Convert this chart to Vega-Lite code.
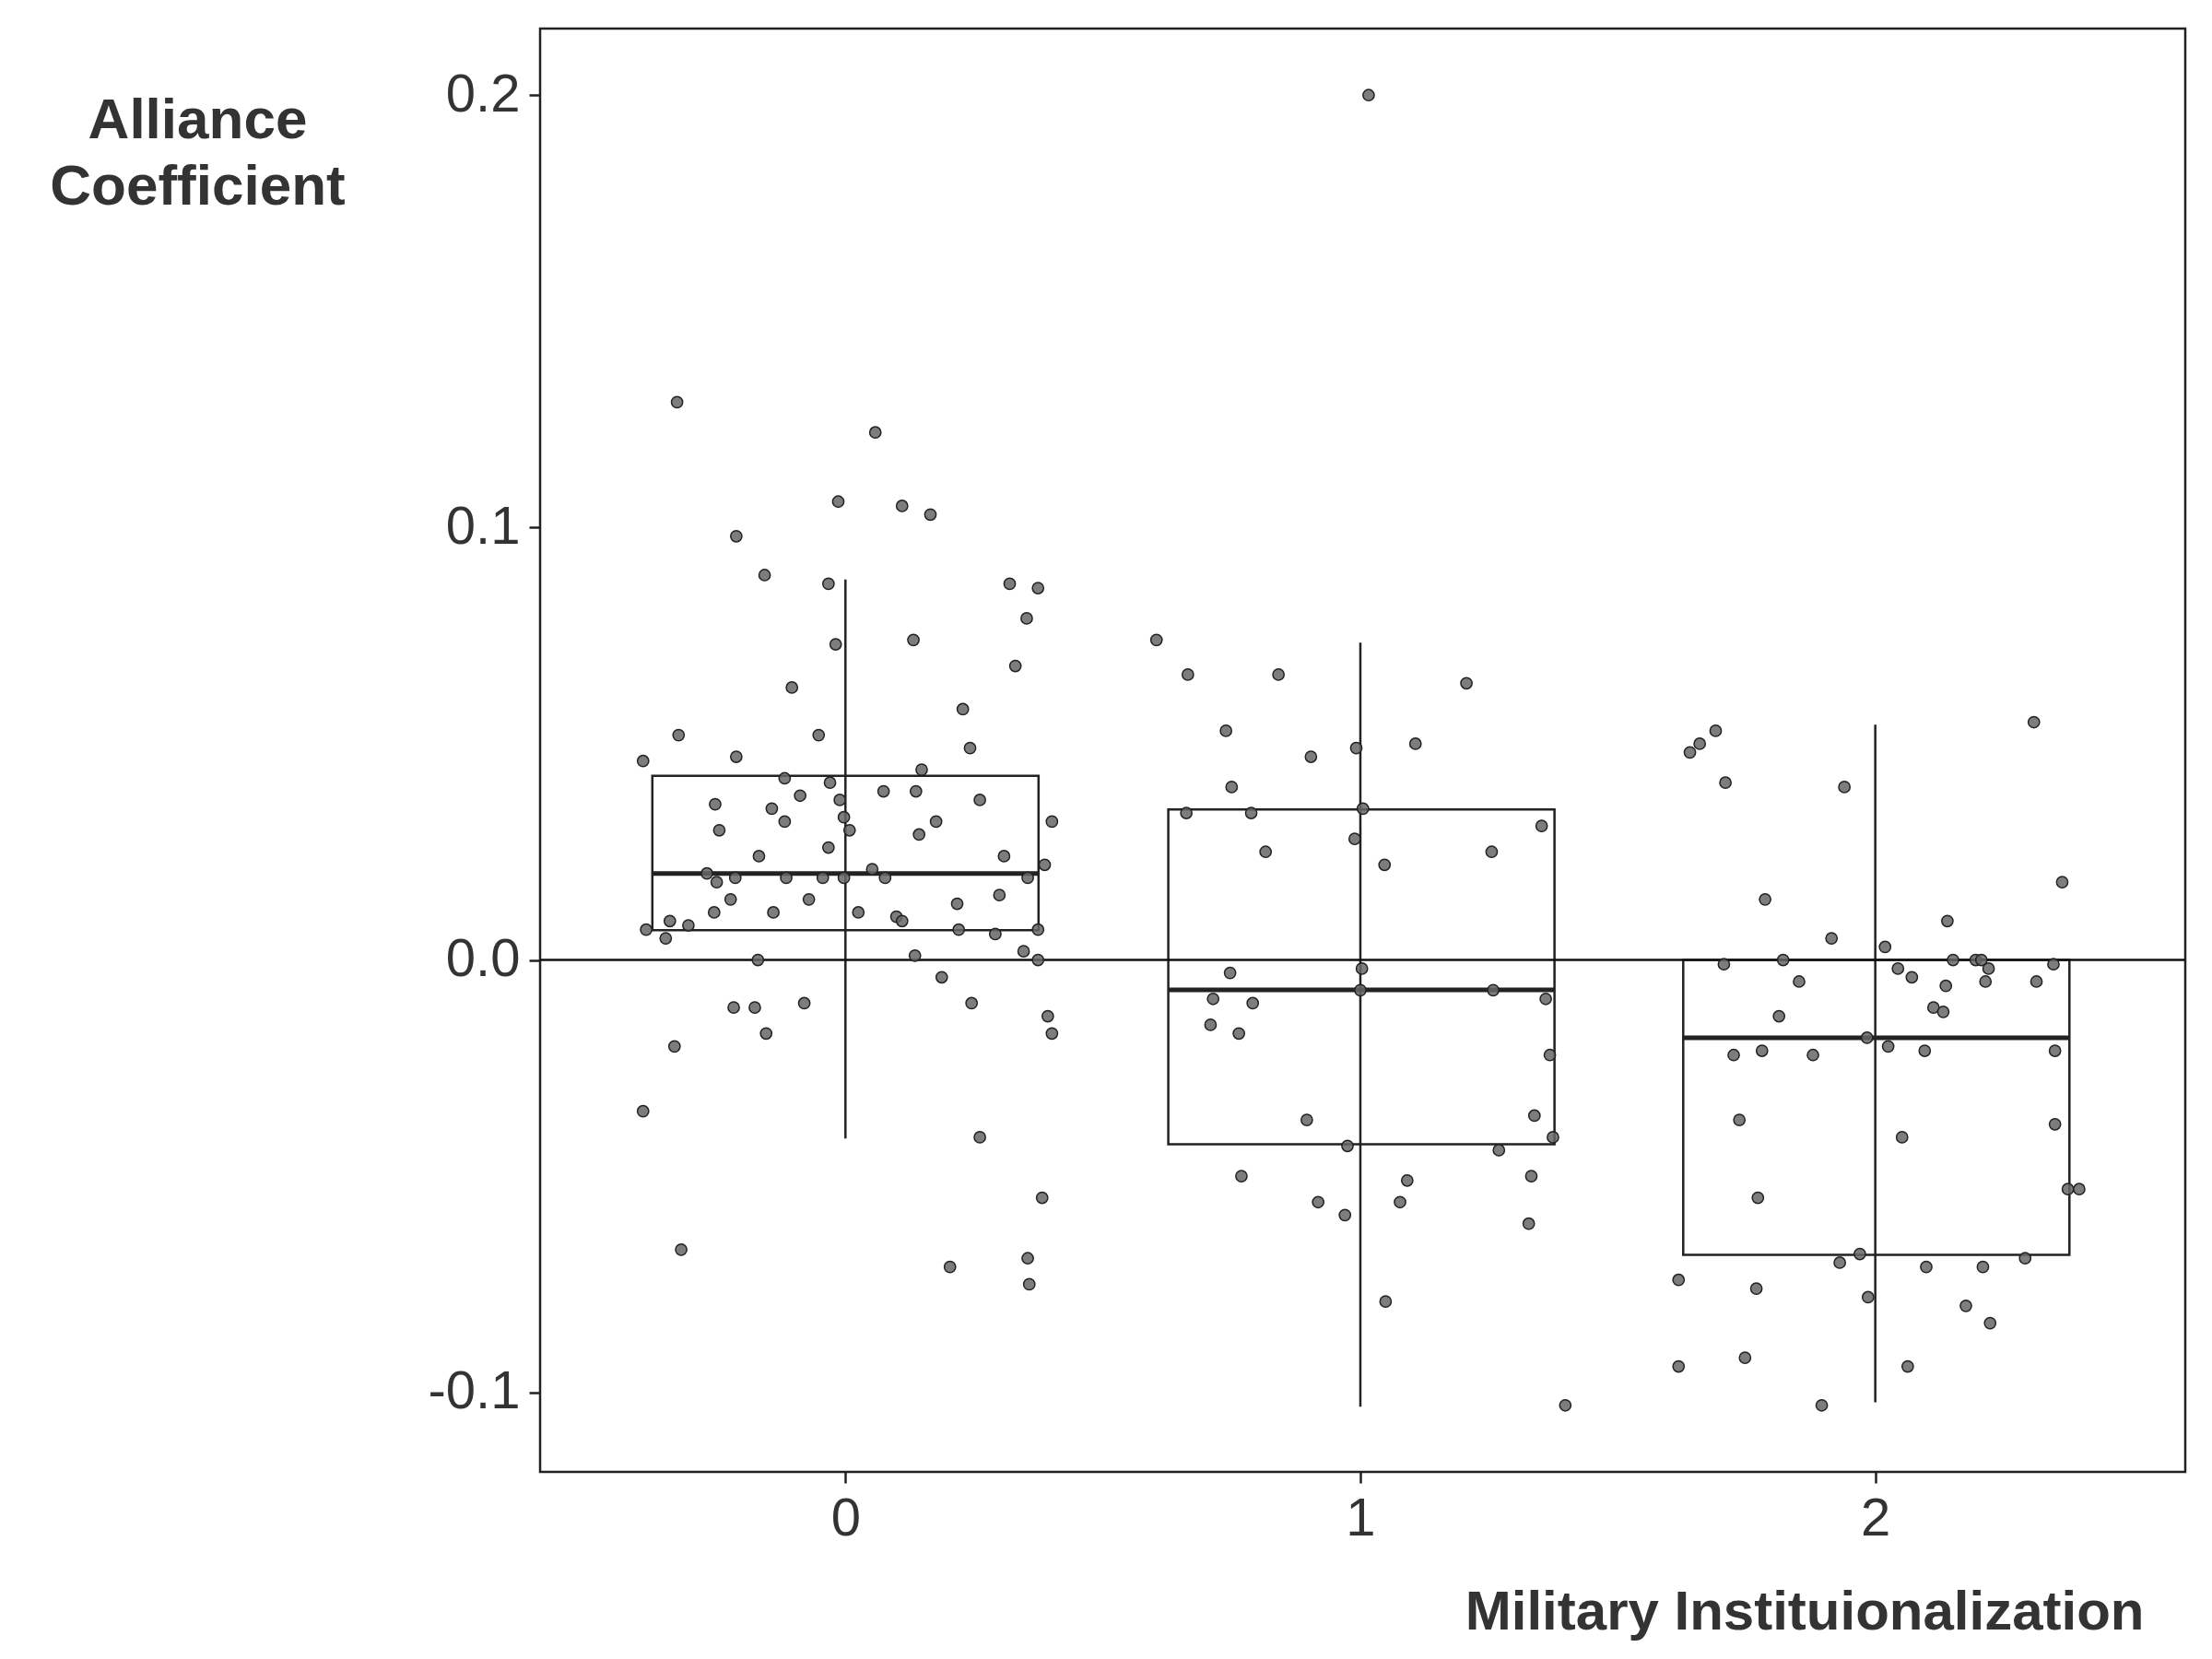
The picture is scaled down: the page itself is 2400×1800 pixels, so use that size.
{
"$schema":"https://vega.github.io/schema/vega-lite/v6.json",
"width":1785,"height":1566,
"autosize":{"type":"none"},
"padding":{"left":586,"top":31,"right":29,"bottom":203},
"background":"white",
"config":{"font":"Liberation Sans","view":{"stroke":"#222","strokeWidth":2.5}},
"datasets":{
"boxes":[
{"g":0,"lo":-0.375,"hi":0.375,"q1":0.0069,"q3":0.0426,"med":0.020,"wl":-0.0413,"wu":0.088},
{"g":1,"lo":0.627,"hi":1.377,"q1":-0.0426,"q3":0.0348,"med":-0.0069,"wl":-0.1033,"wu":0.0734},
{"g":2,"lo":1.627,"hi":2.377,"q1":-0.0682,"q3":0.0,"med":-0.018,"wl":-0.1023,"wu":0.0544}
],
"pts":[
{"x":-0.393,"y":0.046},{"x":-0.387,"y":0.007},{"x":-0.393,"y":-0.035},{"x":-0.327,"y":0.129},{"x":-0.324,"y":0.052},{"x":-0.332,"y":-0.020},{"x":-0.319,"y":-0.067},{"x":-0.349,"y":0.005},{"x":-0.341,"y":0.009},{"x":-0.305,"y":0.008},{"x":-0.253,"y":0.036},{"x":-0.245,"y":0.030},{"x":-0.212,"y":0.098},{"x":-0.212,"y":0.047},{"x":-0.269,"y":0.020},{"x":-0.250,"y":0.018},{"x":-0.255,"y":0.011},{"x":-0.223,"y":0.014},{"x":-0.214,"y":0.019},{"x":-0.217,"y":-0.011},{"x":-0.176,"y":-0.011},{"x":-0.170,"y":0.000},{"x":-0.168,"y":0.024},{"x":-0.157,"y":0.089},{"x":-0.154,"y":-0.017},{"x":-0.143,"y":0.035},{"x":-0.140,"y":0.011},{"x":-0.118,"y":0.042},{"x":-0.118,"y":0.032},{"x":-0.115,"y":0.019},{"x":-0.104,"y":0.063},{"x":-0.088,"y":0.038},{"x":-0.080,"y":-0.010},{"x":-0.071,"y":0.014},{"x":-0.052,"y":0.052},{"x":-0.044,"y":0.019},{"x":-0.033,"y":0.026},{"x":-0.033,"y":0.087},{"x":-0.030,"y":0.041},{"x":-0.019,"y":0.073},{"x":-0.014,"y":0.106},{"x":-0.011,"y":0.037},{"x":-0.003,"y":0.033},{"x":0.008,"y":0.030},{"x":-0.003,"y":0.019},{"x":0.025,"y":0.011},{"x":0.052,"y":0.021},{"x":0.058,"y":0.122},{"x":0.074,"y":0.039},{"x":0.077,"y":0.019},{"x":0.099,"y":0.010},{"x":0.110,"y":0.009},{"x":0.110,"y":0.105},{"x":0.132,"y":0.074},{"x":0.135,"y":0.001},{"x":0.137,"y":0.039},{"x":0.148,"y":0.044},{"x":0.143,"y":0.029},{"x":0.165,"y":0.103},{"x":0.176,"y":0.032},{"x":0.187,"y":-0.004},{"x":0.203,"y":-0.071},{"x":0.217,"y":0.013},{"x":0.220,"y":0.007},{"x":0.228,"y":0.058},{"x":0.242,"y":0.049},{"x":0.245,"y":-0.010},{"x":0.261,"y":0.037},{"x":0.261,"y":-0.041},{"x":0.291,"y":0.006},{"x":0.299,"y":0.015},{"x":0.308,"y":0.024},{"x":0.319,"y":0.087},{"x":0.330,"y":0.068},{"x":0.346,"y":0.002},{"x":0.352,"y":0.079},{"x":0.354,"y":0.019},{"x":0.354,"y":-0.069},{"x":0.357,"y":-0.075},{"x":0.374,"y":0.086},{"x":0.374,"y":0.007},{"x":0.374,"y":0.000},{"x":0.382,"y":-0.055},{"x":0.387,"y":0.022},{"x":0.393,"y":-0.013},{"x":0.401,"y":-0.017},{"x":0.401,"y":0.032},
{"x":0.604,"y":0.074},{"x":0.665,"y":0.066},{"x":0.662,"y":0.034},{"x":0.709,"y":-0.015},{"x":0.714,"y":-0.009},{"x":0.739,"y":0.053},{"x":0.747,"y":-0.003},{"x":0.750,"y":0.040},{"x":0.764,"y":-0.017},{"x":0.769,"y":-0.050},{"x":0.788,"y":0.034},{"x":0.791,"y":-0.010},{"x":0.816,"y":0.025},{"x":0.841,"y":0.066},{"x":0.896,"y":-0.037},{"x":0.904,"y":0.047},{"x":0.918,"y":-0.056},{"x":0.970,"y":-0.059},{"x":0.975,"y":-0.043},{"x":0.989,"y":0.028},{"x":0.992,"y":0.049},{"x":1.000,"y":-0.007},{"x":1.003,"y":-0.002},{"x":1.005,"y":0.035},{"x":1.016,"y":0.200},{"x":1.047,"y":0.022},{"x":1.049,"y":-0.079},{"x":1.077,"y":-0.056},{"x":1.091,"y":-0.051},{"x":1.107,"y":0.050},{"x":1.206,"y":0.064},{"x":1.255,"y":0.025},{"x":1.258,"y":-0.007},{"x":1.269,"y":-0.044},{"x":1.327,"y":-0.061},{"x":1.332,"y":-0.050},{"x":1.338,"y":-0.036},{"x":1.352,"y":0.031},{"x":1.360,"y":-0.009},{"x":1.368,"y":-0.022},{"x":1.374,"y":-0.041},{"x":1.398,"y":-0.103},
{"x":1.618,"y":-0.074},{"x":1.618,"y":-0.094},{"x":1.640,"y":0.048},{"x":1.659,"y":0.050},{"x":1.690,"y":0.053},{"x":1.706,"y":-0.001},{"x":1.709,"y":0.041},{"x":1.725,"y":-0.022},{"x":1.736,"y":-0.037},{"x":1.747,"y":-0.092},{"x":1.769,"y":-0.076},{"x":1.772,"y":-0.055},{"x":1.780,"y":-0.021},{"x":1.786,"y":0.014},{"x":1.813,"y":-0.013},{"x":1.821,"y":0.000},{"x":1.852,"y":-0.005},{"x":1.879,"y":-0.022},{"x":1.896,"y":-0.103},{"x":1.915,"y":0.005},{"x":1.931,"y":-0.070},{"x":1.940,"y":0.040},{"x":1.970,"y":-0.068},{"x":1.984,"y":-0.018},{"x":1.986,"y":-0.078},{"x":2.019,"y":0.003},{"x":2.025,"y":-0.020},{"x":2.044,"y":-0.002},{"x":2.052,"y":-0.041},{"x":2.063,"y":-0.094},{"x":2.071,"y":-0.004},{"x":2.096,"y":-0.021},{"x":2.099,"y":-0.071},{"x":2.113,"y":-0.011},{"x":2.132,"y":-0.012},{"x":2.137,"y":-0.006},{"x":2.140,"y":0.009},{"x":2.151,"y":0.000},{"x":2.176,"y":-0.080},{"x":2.195,"y":0.000},{"x":2.206,"y":0.000},{"x":2.209,"y":-0.071},{"x":2.214,"y":-0.005},{"x":2.220,"y":-0.002},{"x":2.223,"y":-0.084},{"x":2.291,"y":-0.069},{"x":2.308,"y":0.055},{"x":2.313,"y":-0.005},{"x":2.346,"y":-0.001},{"x":2.349,"y":-0.021},{"x":2.349,"y":-0.038},{"x":2.363,"y":0.018},{"x":2.374,"y":-0.053},{"x":2.396,"y":-0.053}
]},
"layer":[
{"data":{"name":"boxes"},"mark":{"type":"rule","stroke":"#222","strokeWidth":2.5},
"encoding":{
"x":{"field":"g","type":"quantitative","scale":{"domain":[-0.593,2.602],"nice":false,"zero":false},
"axis":{"values":[0,1,2],"format":"d","grid":false,"domain":false,"tickColor":"#222","tickWidth":2.5,"tickSize":12,"labelFontSize":58,"labelColor":"#333","labelPadding":10,
"title":"Military Instituionalization","titleFontSize":60,"titleFontWeight":"bold","titleColor":"#333","titleAnchor":"end","titleAlign":"right","titleBaseline":"alphabetic","titleX":1740,"titleY":170}},
"y":{"field":"wl","type":"quantitative","scale":{"domain":[-0.1184,0.2154],"nice":false,"zero":false},
"axis":{"values":[-0.1,0,0.1,0.2],"labelExpr":"replace(format(datum.value,'.1f'),'\u2212','-')","grid":false,"domain":false,"tickColor":"#222","tickWidth":2.5,"tickSize":12,"labelFontSize":58,"labelColor":"#333","labelPadding":10,
"title":["Alliance","Coefficient"],"titleFontSize":62,"titleFontWeight":"bold","titleColor":"#333","titleAngle":0,"titleAlign":"center","titleBaseline":"alphabetic","titleX":-372,"titleY":118,"titleLineHeight":72}},
"y2":{"field":"wu"}}},
{"data":{"name":"boxes"},"mark":{"type":"rect","fill":"white","fillOpacity":0,"stroke":"#222","strokeWidth":2.5},
"encoding":{"x":{"field":"lo","type":"quantitative"},"x2":{"field":"hi"},"y":{"field":"q1","type":"quantitative"},"y2":{"field":"q3"}}},
{"data":{"name":"boxes"},"mark":{"type":"rule","stroke":"#222","strokeWidth":5},
"encoding":{"x":{"field":"lo","type":"quantitative"},"x2":{"field":"hi"},"y":{"field":"med","type":"quantitative"}}},
{"data":{"values":[{"z":0}]},"mark":{"type":"rule","stroke":"#111","strokeWidth":2.5},
"encoding":{"y":{"field":"z","type":"quantitative"}}},
{"data":{"name":"pts"},"mark":{"type":"circle","size":150,"fill":"#666","fillOpacity":0.85,"stroke":"#222","strokeWidth":1.5},
"encoding":{"x":{"field":"x","type":"quantitative"},"y":{"field":"y","type":"quantitative"}}}
]
}
